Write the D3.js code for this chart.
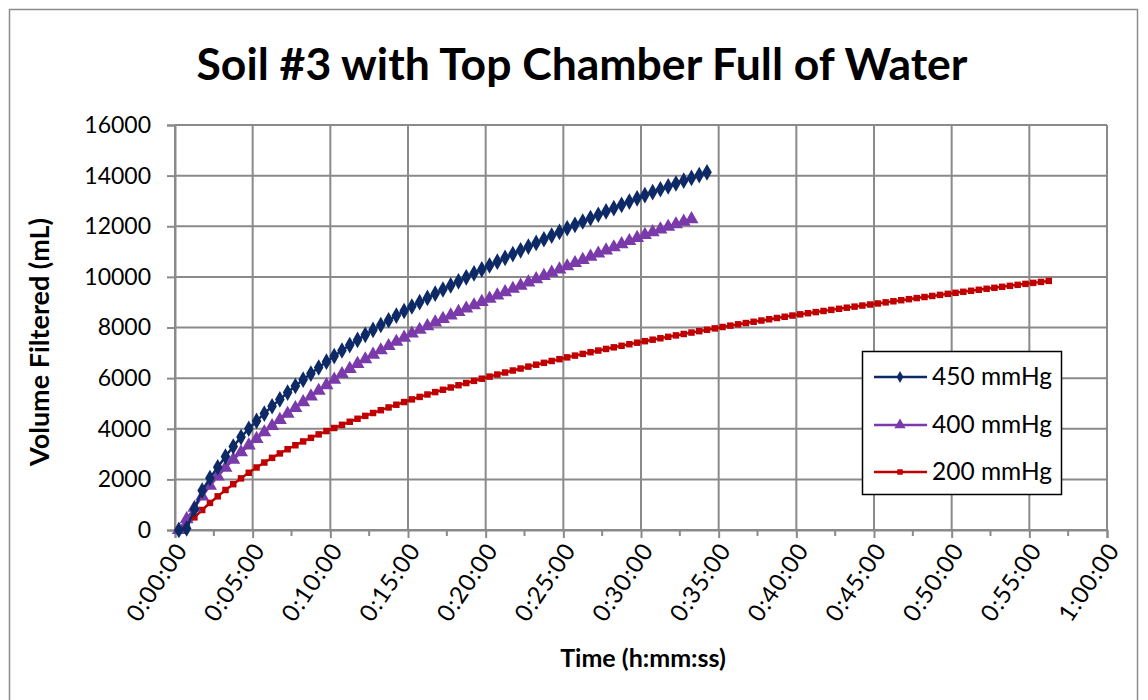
<!DOCTYPE html>
<html>
<head>
<meta charset="utf-8">
<script src="https://cdn.jsdelivr.net/npm/d3@7"></script>
<style>
  html, body { margin: 0; padding: 0; background: #fff; }
  svg { display: block; }
  text { font-family: Lato, "Open Sans", "Liberation Sans", sans-serif; }
</style>
</head>
<body>
<svg id="chart" width="1148" height="700"></svg>
<script>
// ---------------- DATA ----------------
const chartTitle = "Soil #3 with Top Chamber Full of Water";
const xAxisTitle = "Time (h:mm:ss)";
const yAxisTitle = "Volume Filtered (mL)";
const seriesNames = ["450 mmHg", "400 mmHg", "200 mmHg"];
// sampling of the recorded readings (seconds)
const sampleStartSec = 15;
const sampleStepSec = 30;
const xTickSeconds = [0, 300, 600, 900, 1200, 1500, 1800, 2100, 2400, 2700, 3000, 3300, 3600];
const yTickValues = [0, 2000, 4000, 6000, 8000, 10000, 12000, 14000, 16000];

const vol450 = [
  0, 60, 830, 1560, 2050, 2480, 2900, 3300, 3670, 4000, 4310, 4600, 4890, 5160, 5430, 5690, 5940, 6180, 6420, 6650, 6870, 7090,
  7305, 7510, 7710, 7905, 8097, 8285, 8470, 8652, 8830,
  9002, 9170, 9336, 9500, 9662, 9823, 9982, 10139, 10295, 10450,
  10602, 10752, 10901, 11049, 11196, 11342, 11487, 11632, 11776, 11920,
  12055, 12189, 12322, 12454, 12585, 12715, 12845, 12974, 13102, 13230,
  13346, 13461, 13575, 13688, 13800, 13911, 14021, 14130
];
const vol400 = [
  0, 430, 880, 1330, 1750, 2120, 2460, 2780, 3070, 3340, 3600, 3860, 4110, 4350, 4590, 4820, 5050, 5280, 5500, 5720, 5940,
  6160, 6365, 6560, 6745, 6925, 7100, 7270, 7437, 7600, 7760,
  7910, 8056, 8199, 8340, 8478, 8614, 8748, 8880, 9010, 9140,
  9270, 9399, 9528, 9656, 9784, 9912, 10039, 10166, 10293, 10420,
  10546, 10672, 10797, 10922, 11046, 11170, 11293, 11416, 11538, 11660,
  11768, 11874, 11978, 12080, 12180, 12280
];
const vol200 = [
  0, 230, 500, 790, 1070, 1330, 1580, 1810, 2040, 2260, 2470,
  2665, 2850, 3025, 3190, 3348, 3498, 3641, 3778, 3908, 4030,
  4155, 4276, 4394, 4509, 4622, 4733, 4842, 4949, 5055, 5160,
  5258, 5354, 5448, 5540, 5630, 5719, 5806, 5892, 5977, 6060,
  6142, 6222, 6301, 6379, 6455, 6530, 6604, 6677, 6749, 6820,
  6890, 6958, 7024, 7089, 7153, 7216, 7278, 7339, 7400, 7460,
  7518, 7575, 7632, 7688, 7744, 7800, 7855, 7910, 7965, 8020,
  8073, 8125, 8176, 8226, 8276, 8326, 8375, 8424, 8472, 8520,
  8565, 8609, 8653, 8696, 8739, 8782, 8824, 8866, 8908, 8950,
  8993, 9036, 9078, 9120, 9162, 9204, 9246, 9288, 9329, 9370,
  9410, 9450, 9490, 9529, 9568, 9607, 9646, 9685, 9724, 9763, 9802, 9840
];

// ---------------- STYLE ----------------
const colors = ["#0d2a66", "#7a3aaa", "#c00000"];
const symbols = [d3.symbolDiamond, d3.symbolTriangle, d3.symbolSquare];
const symSizes = [80, 85, 42];
const legendSymSizes = [40, 55, 30];
const gridColor = "#8a8a8a";

const svg = d3.select("#chart");
const plot = { left: 175, right: 1107, top: 125, bottom: 530 };

const x = d3.scaleLinear().domain([0, 3600]).range([plot.left, plot.right]);
const y = d3.scaleLinear().domain([0, 16000]).range([plot.bottom, plot.top]);

const fmtTime = s => {
  const h = Math.floor(s / 3600), m = Math.floor((s % 3600) / 60), sec = s % 60;
  return `${h}:${String(m).padStart(2, "0")}:${String(sec).padStart(2, "0")}`;
};

// chart border
svg.append("rect").attr("x", 9.5).attr("y", 9.5).attr("width", 1128).attr("height", 720)
  .attr("fill", "none").attr("stroke", "#8c8c8c").attr("stroke-width", 1.5);

// title
svg.append("text").attr("x", 582).attr("y", 80).attr("text-anchor", "middle")
  .attr("font-size", 44.5).attr("font-weight", "bold").attr("fill", "#000").text(chartTitle);

// gridlines
const grid = svg.append("g");
grid.selectAll("line.h").data(yTickValues).join("line")
  .attr("x1", plot.left).attr("x2", plot.right)
  .attr("y1", d => y(d)).attr("y2", d => y(d))
  .attr("stroke", gridColor).attr("stroke-width", 2);
grid.selectAll("line.v").data(xTickSeconds).join("line")
  .attr("x1", d => x(d)).attr("x2", d => x(d))
  .attr("y1", plot.top).attr("y2", plot.bottom)
  .attr("stroke", gridColor).attr("stroke-width", 2);

// y axis
const yAxis = svg.append("g").attr("transform", `translate(${plot.left},0)`)
  .call(d3.axisLeft(y).tickValues(yTickValues).tickSize(8).tickPadding(16).tickFormat(d3.format("d")));
yAxis.select(".domain").attr("stroke", gridColor).attr("stroke-width", 2);
yAxis.selectAll(".tick line").attr("stroke", gridColor).attr("stroke-width", 2);
yAxis.selectAll(".tick text").attr("font-size", 23).attr("fill", "#000")
  .attr("font-family", "Lato, 'Open Sans', sans-serif");

// x axis
const xAxis = svg.append("g").attr("transform", `translate(0,${plot.bottom})`)
  .call(d3.axisBottom(x).tickValues(xTickSeconds).tickSize(8).tickFormat(fmtTime));
xAxis.select(".domain").attr("stroke", gridColor).attr("stroke-width", 2);
xAxis.selectAll(".tick line").attr("stroke", gridColor).attr("stroke-width", 2);
xAxis.selectAll(".tick text")
  .attr("font-size", 24).attr("fill", "#000").attr("letter-spacing", 1)
  .attr("font-family", "Lato, 'Open Sans', sans-serif")
  .attr("text-anchor", "end").attr("dy", null)
  .attr("transform", "translate(13,20) rotate(-56)")
  .attr("x", 0).attr("y", 0);
// minor x ticks
const minorX = xTickSeconds.slice(0, -1).map(d => d + 150);
svg.append("g").selectAll("line").data(minorX).join("line")
  .attr("x1", d => x(d)).attr("x2", d => x(d))
  .attr("y1", plot.bottom).attr("y2", plot.bottom + 6)
  .attr("stroke", gridColor).attr("stroke-width", 2);

// axis titles
svg.append("text").attr("x", 643).attr("y", 667).attr("text-anchor", "middle")
  .attr("font-size", 25).attr("font-weight", "bold").text(xAxisTitle);
svg.append("text").attr("transform", "translate(49,342) rotate(-90)").attr("text-anchor", "middle")
  .attr("font-size", 27).attr("font-weight", "bold").text(yAxisTitle);

// series
const allSeries = [vol450, vol400, vol200].map((vals, i) => ({
  name: seriesNames[i],
  color: colors[i],
  symbol: symbols[i],
  size: symSizes[i],
  points: vals.map((v, k) => ({ t: sampleStartSec + k * sampleStepSec, v }))
}));

const line = d3.line().x(d => x(d.t)).y(d => y(d.v));
const drawOrder = [2, 1, 0];
drawOrder.forEach(i => {
  const s = allSeries[i];
  const g = svg.append("g");
  g.append("path").datum(s.points).attr("d", line)
    .attr("fill", "none").attr("stroke", s.color).attr("stroke-width", 2.5);
  g.selectAll("path.m").data(s.points).join("path").attr("class", "m")
    .attr("transform", d => `translate(${x(d.t)},${y(d.v)})`)
    .attr("d", d3.symbol().type(s.symbol).size(s.size))
    .attr("fill", s.color);
});

// legend
const lg = svg.append("g");
lg.append("rect").attr("x", 862.5).attr("y", 351.5).attr("width", 199).attr("height", 143)
  .attr("fill", "#fff").attr("stroke", "#000").attr("stroke-width", 1.5);
const legendY = [377, 425, 472];
allSeries.forEach((s, i) => {
  const yy = legendY[i];
  lg.append("line").attr("x1", 874).attr("x2", 927).attr("y1", yy).attr("y2", yy)
    .attr("stroke", s.color).attr("stroke-width", 2.5);
  lg.append("path").attr("transform", `translate(900,${yy})`)
    .attr("d", d3.symbol().type(s.symbol).size(legendSymSizes[i])).attr("fill", s.color);
  lg.append("text").attr("x", 932).attr("y", yy + 8).attr("font-size", 24.5).text(s.name);
});
</script>
</body>
</html>
